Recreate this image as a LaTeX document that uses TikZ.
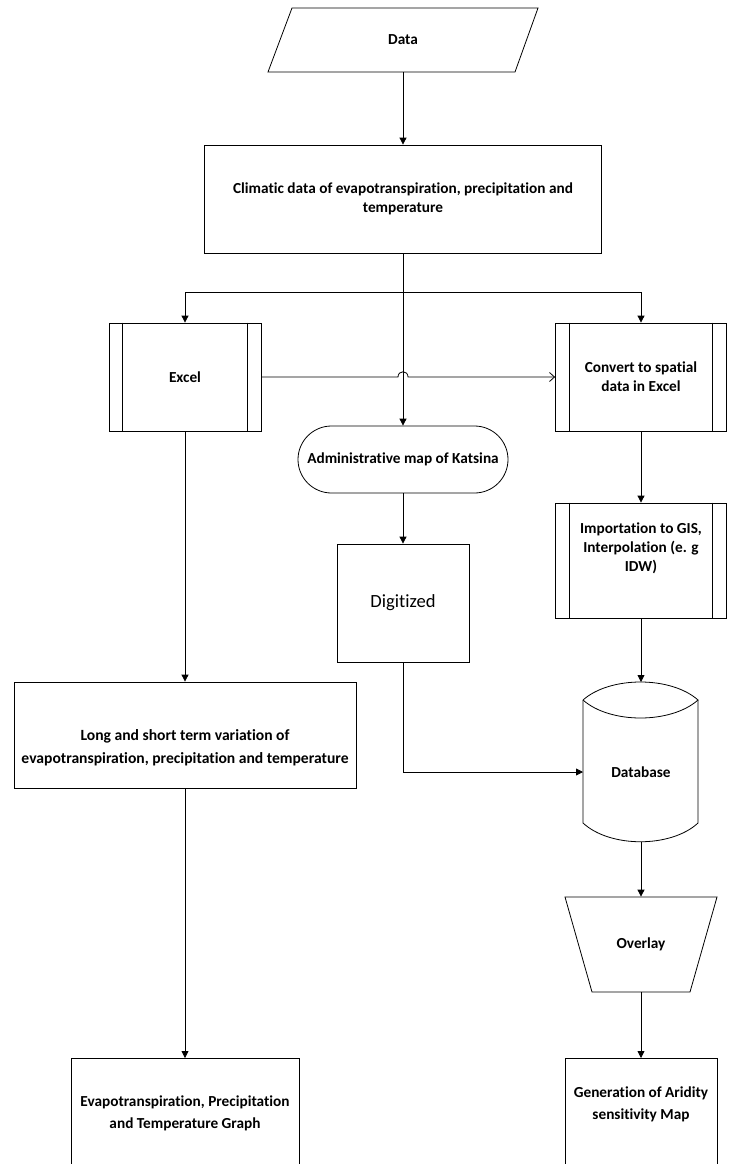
\documentclass[tikz,border=0pt]{standalone}
\usepackage{fontspec}
\setmainfont{Carlito}[Ligatures=NoCommon]
\usetikzlibrary{arrows.meta,calc}
\begin{document}
\begin{tikzpicture}[x=1pt,y=-1pt, line width=0.8pt,
  lbl/.style={align=center, inner sep=0pt, font=\bfseries\fontsize{15.3}{19}\selectfont},
  lblwide/.style={align=center, inner sep=0pt, font=\bfseries\fontsize{15.3}{22}\selectfont},
  procbox/.style={draw, rectangle, inner sep=0pt, align=center, font=\bfseries\fontsize{15.3}{19}\selectfont},
  plainbox/.style={draw, rectangle, inner sep=0pt},
  arr/.style={-{Triangle[length=7pt,width=7pt]}},
  openarr/.style={-{Straight Barb[length=5pt,width=9pt]}}
]
\useasboundingbox (0,0) rectangle (731,1164);
\clip (0,0) rectangle (731,1164);

% Data (parallelogram)
\node[lbl, minimum width=246pt, minimum height=64pt] (data) at (403,40) {Data};
\draw (292,8) -- (538,8) -- (515,72) -- (268,72) -- cycle;

% Climatic data
\node[procbox, minimum width=397pt, minimum height=108pt, font=\bfseries\fontsize{15.3}{18.5}\selectfont] (clim) at (403,199)
  {Climatic data of evapotranspiration, precipitation and\\temperature};
\coordinate (br) at ($(clim.south)+(0,39)$);

% Excel (predefined process)
\node[procbox, minimum width=152pt, minimum height=108pt] (excel) at (185,377) {Excel};
\draw ($(excel.north west)+(14,0)$) -- ($(excel.south west)+(14,0)$);
\draw ($(excel.north east)+(-14,0)$) -- ($(excel.south east)+(-14,0)$);

% Convert (predefined process)
\node[procbox, minimum width=171pt, minimum height=108pt] (conv) at (641,377) {Convert to spatial\\data in Excel};
\draw ($(conv.north west)+(14,0)$) -- ($(conv.south west)+(14,0)$);
\draw ($(conv.north east)+(-15,0)$) -- ($(conv.south east)+(-15,0)$);

% Administrative map (terminator)
\node[procbox, rounded corners=33.5pt, minimum width=210pt, minimum height=67pt] (admin) at (403,459.5) {Administrative map of Katsina};

% Digitized
\node[plainbox, minimum width=132pt, minimum height=118pt, font=\fontsize{18.6}{22}\selectfont] (dig) at (403,603) {Digitized};

% Importation (predefined process)
\node[plainbox, minimum width=171pt, minimum height=115pt] (imp) at (641,560.5) {};
\draw ($(imp.north west)+(14,0)$) -- ($(imp.south west)+(14,0)$);
\draw ($(imp.north east)+(-15,0)$) -- ($(imp.south east)+(-15,0)$);
\node[lbl] (impT) at (641,548) {Importation to GIS,\\Interpolation (e. g\\IDW)};

% Long and short term
\node[plainbox, minimum width=342pt, minimum height=106pt] (long) at (185,735) {};
\node[align=center, inner sep=0pt, font=\bfseries\fontsize{15.6}{23}\selectfont] (longT) at (185,748)
  {Long and short term variation of\\evapotranspiration, precipitation and temperature};

% Database
\coordinate (dbtop) at (641,682);
\coordinate (dbbot) at (641,842);
\coordinate (dbw) at (583,772);
\draw (583,700) .. controls (610,676) and (671,676) .. (698,700)
      .. controls (671,724) and (610,724) .. (583,700);
\draw (583,700) -- (583,823) .. controls (610,848) and (671,848) .. (698,823) -- (698,700);
\node[lbl] (db) at (641,772) {Database};

% Overlay (manual operation)
\node[lbl, minimum width=152pt, minimum height=95pt] (ov) at (641,944.5) {Overlay};
\draw (565,897) -- (717,897) -- (690,992) -- (592,992) -- cycle;

% Bottom boxes (cut by page edge)
\node[plainbox, minimum width=228pt, minimum height=160pt, anchor=north] (bl) at (185,1058) {};
\node[lblwide] (blT) at (185,1113) {Evapotranspiration, Precipitation\\and Temperature Graph};
\node[plainbox, minimum width=152pt, minimum height=160pt, anchor=north] (gen) at (641,1058) {};
\node[lblwide] (genT) at (641,1104) {Generation of Aridity\\sensitivity Map};

% Connectors
\draw[arr] (data.south) -- (clim.north);
\draw[arr] (clim.south) -- (admin.north);
\draw[arr] (br) -| (excel.north);
\draw[arr] (br) -| (conv.north);
\draw[openarr] (excel.east) -- ($(excel.east -| admin.north)+(-5,0)$)
   .. controls +(0,-7) and +(0,-7) .. ($(excel.east -| admin.north)+(5,0)$) -- (conv.west);
\draw[arr] (admin.south) -- (dig.north);
\draw[arr] (dig.south) |- (dbw);
\draw[arr] (conv.south) -- (imp.north);
\draw[arr] (imp.south) -- (dbtop);
\draw[arr] (dbbot) -- (ov.north);
\draw[arr] (ov.south) -- (gen.north);
\draw[arr] (excel.south) -- (long.north);
\draw[arr] (long.south) -- (bl.north);
\end{tikzpicture}
\end{document}
